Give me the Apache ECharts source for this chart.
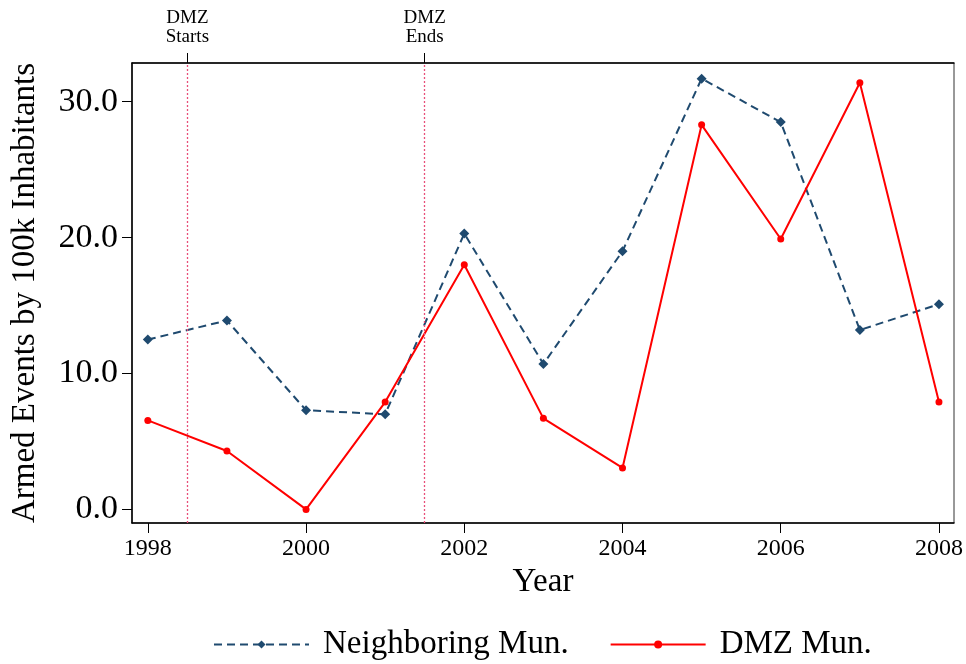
<!DOCTYPE html>
<html>
<head>
<meta charset="utf-8">
<script src="https://cdn.jsdelivr.net/npm/echarts@6/dist/echarts.min.js"></script>
<style>html,body{margin:0;padding:0;background:#fff}#c{width:966px;height:664px}</style>
</head>
<body>
<div id="c"></div>
<script>
const years = [1998, 1999, 2000, 2001, 2002, 2003, 2004, 2005, 2006, 2007, 2008];
const neighboring = [12.5, 13.9, 7.3, 7.0, 20.3, 10.7, 19.0, 31.7, 28.5, 13.2, 15.1];
const dmz = [6.55, 4.3, 0.0, 7.9, 18.0, 6.7, 3.05, 28.3, 19.9, 31.4, 7.9];
const xTicks = [1998, 2000, 2002, 2004, 2006, 2008];
const yTicks = [0, 10, 20, 30];
const dmzPeriod = [1998.5, 2001.5];
const dmzLabels = ['DMZ\nStarts', 'DMZ\nEnds'];

const FONT = '"Liberation Serif", "DejaVu Serif", serif';
const chart = echarts.init(document.getElementById('c'), null, {renderer: 'canvas'});
chart.setOption({
  animation: false,
  backgroundColor: '#fff',
  grid: {left: 132, right: 12, top: 63, bottom: 141, containLabel: false, outerBoundsMode: 'none',
    show: true, borderColor: '#333', borderWidth: 1},
  legend: {
    top: 623, left: 208, itemWidth: 95, itemHeight: 10, itemGap: 41,
    textStyle: {fontFamily: FONT, fontSize: 33, color: '#000', padding: [0, 0, 0, 9]},
    data: ['Neighboring Mun.', 'DMZ Mun.']
  },
  xAxis: [{
    type: 'value', min: 1997.8, max: 2008.19, position: 'bottom',
    name: 'Year', nameLocation: 'middle', nameGap: 36,
    nameTextStyle: {fontFamily: FONT, fontSize: 33, color: '#000'},
    axisLine: {show: true, onZero: false, lineStyle: {color: '#000', width: 1.5}},
    axisTick: {show: true, length: 10, customValues: xTicks, lineStyle: {color: '#000'}},
    axisLabel: {customValues: xTicks, fontFamily: FONT, fontSize: 24, color: '#000', margin: 14,
      formatter: v => String(Math.round(v))},
    splitLine: {show: false}
  }, {
    type: 'value', min: 1997.8, max: 2008.19, position: 'top',
    axisLine: {show: true, onZero: false, lineStyle: {color: '#000', width: 1.5}},
    axisTick: {show: true, length: 10, customValues: dmzPeriod, lineStyle: {color: '#000'}},
    axisLabel: {customValues: dmzPeriod, fontFamily: FONT, fontSize: 19, color: '#000', margin: 16, lineHeight: 19,
      formatter: v => dmzLabels[dmzPeriod.indexOf(v)] || ''},
    splitLine: {show: false}
  }],
  yAxis: {
    type: 'value', min: -1.0, max: 32.85,
    name: 'Armed Events by 100k Inhabitants', nameLocation: 'middle', nameGap: 90,
    nameTextStyle: {fontFamily: FONT, fontSize: 33, color: '#000'},
    axisLine: {show: true, onZero: false, lineStyle: {color: '#000', width: 1.5}},
    axisTick: {show: true, length: 10, customValues: yTicks, lineStyle: {color: '#000'}},
    axisLabel: {customValues: yTicks, fontFamily: FONT, fontSize: 34, color: '#000', margin: 14,
      formatter: v => v.toFixed(1)},
    splitLine: {show: false}
  },
  series: [{
    name: 'Neighboring Mun.', type: 'line',
    data: years.map((y, i) => [y, neighboring[i]]),
    symbol: 'diamond', symbolSize: 10,
    itemStyle: {color: '#1f4a6f'},
    lineStyle: {color: '#1f4a6f', width: 2, type: [8, 5]},
    markLine: {
      silent: true, symbol: 'none', label: {show: false},
      lineStyle: {color: '#e8507a', width: 1.3, type: [2, 2]},
      data: dmzPeriod.map(v => ({xAxis: v}))
    }
  }, {
    name: 'DMZ Mun.', type: 'line',
    data: years.map((y, i) => [y, dmz[i]]),
    symbol: 'circle', symbolSize: 7,
    itemStyle: {color: '#ff0000'},
    lineStyle: {color: '#ff0000', width: 2}
  }]
});
</script>
</body>
</html>
